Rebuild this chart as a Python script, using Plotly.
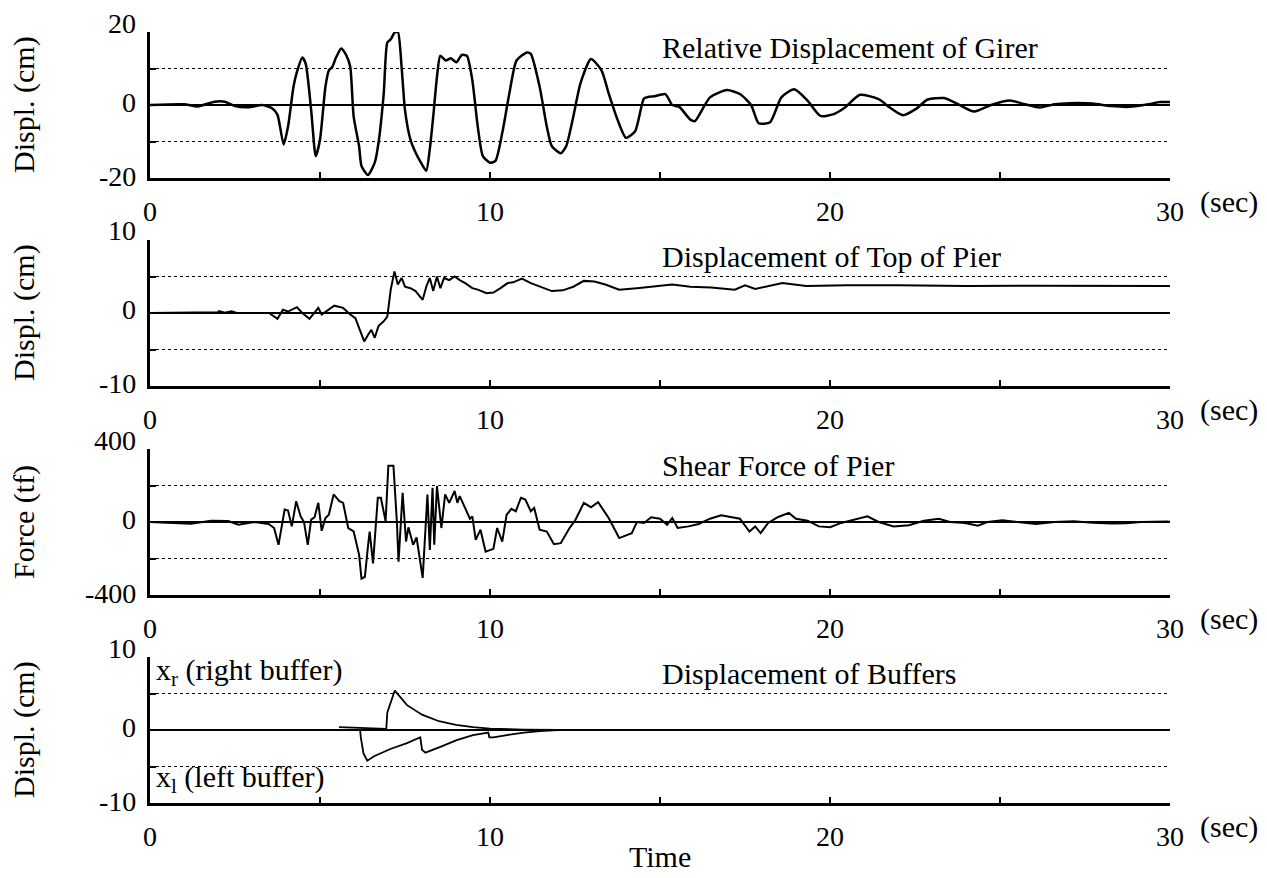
import plotly.graph_objects as go

# ---------------- data ----------------
# Panel 1: relative displacement of girder (cm)
girder = [(0, 0), (1.0, 0.2), (1.4, -0.4), (1.9, 0.9), (2.2, 0.9), (2.5, -0.3), (2.9, -0.6),
          (3.3, 0.0), (3.59, -0.9), (3.75, -2.7), (3.93, -10.8), (4.06, -5.9), (4.22, 5.0),
          (4.32, 9.0), (4.48, 13.0), (4.58, 11.3), (4.74, -1.4), (4.875, -14.0), (5.0, -9.5),
          (5.16, 5.0), (5.26, 9.5), (5.36, 10.4), (5.47, 13.0), (5.625, 15.5), (5.78, 13.5),
          (5.89, 10.4), (5.99, -3.2), (6.15, -11.3), (6.22, -16.7), (6.41, -19.2), (6.61, -15.8),
          (6.72, -10.4), (6.875, 3.2), (6.98, 17.1), (7.08, 18.0), (7.19, 19.8), (7.29, 20.0),
          (7.4, 10.4), (7.5, -1.4), (7.66, -9.5), (7.81, -13.0), (7.97, -15.8), (8.125, -18.0),
          (8.23, -12.0), (8.33, -3.2), (8.44, 7.7), (8.54, 13.5), (8.7, 12.2), (8.85, 12.8),
          (9.01, 11.7), (9.17, 13.7), (9.32, 13.5), (9.48, 6.8), (9.64, -5.9), (9.79, -14.0),
          (10.0, -15.8), (10.16, -15.3), (10.36, -7.7), (10.57, 3.2), (10.78, 12.2), (11.09, 14.4),
          (11.2, 14.0), (11.46, 5.0), (11.67, -5.9), (11.82, -11.3), (12.08, -13.2), (12.24, -11.3),
          (12.45, -3.2), (12.66, 5.9), (12.97, 12.6), (13.28, 9.5), (13.49, 3.2), (13.75, -4.0),
          (14.0, -9.0), (14.27, -7.2), (14.53, 1.8), (14.69, 2.3), (14.84, 2.4), (15.16, 3.0),
          (15.36, 0.0), (15.57, -0.5), (15.89, -4.0), (16.03, -4.4), (16.47, 2.1), (16.97, 4.1),
          (17.35, 3.0), (17.68, 0.0), (17.9, -5.0), (18.24, -4.7), (18.57, 2.1), (18.95, 4.3),
          (19.34, 1.2), (19.72, -3.0), (20.11, -2.5), (20.44, -0.7), (20.88, 2.8), (21.43, 1.6),
          (21.76, -0.7), (22.15, -2.8), (22.54, -1.0), (22.87, 1.5), (23.36, 1.9), (23.75, 0.3),
          (24.24, -1.8), (24.74, 0.0), (25.29, 1.2), (25.73, 0.2), (26.17, -0.7), (26.6, 0.2),
          (27.06, 0.5), (27.72, 0.4), (28.27, -0.3), (28.82, -0.5), (29.37, 0.2), (29.7, 0.8),
          (30.0, 0.8)]

# Panel 2: displacement of top of pier (cm)
pier_disp = [(0, 0), (0.9, 0), (2.0, 0.1), (2.03, 0.25), (2.2, 0.05), (2.4, 0.25), (2.55, 0),
             (3.5, 0), (3.75, -0.8), (3.91, 0.45), (4.06, 0.2), (4.32, 0.8), (4.48, 0),
             (4.69, -0.8), (4.84, 0.1), (4.95, 0.7), (5.05, -0.2), (5.26, 0.45), (5.42, 1.0),
             (5.68, 0.7), (5.89, -0.2), (6.04, -0.7), (6.18, -2.3), (6.3, -3.9), (6.41, -3.0),
             (6.51, -2.3), (6.61, -3.4), (6.72, -1.8), (6.88, -1.1), (6.98, -0.5), (7.08, 3.2),
             (7.19, 5.7), (7.29, 3.9), (7.4, 4.8), (7.5, 3.6), (7.66, 3.4), (7.81, 3.0),
             (8.02, 1.8), (8.125, 3.6), (8.23, 4.8), (8.33, 3.0), (8.44, 5.0), (8.54, 3.4),
             (8.65, 4.8), (8.8, 4.5), (8.96, 5.0), (9.11, 4.5), (9.27, 4.1), (9.48, 3.4),
             (9.64, 3.2), (9.9, 2.7), (10.1, 2.8), (10.31, 3.4), (10.52, 4.1), (10.68, 4.2),
             (10.94, 4.7), (11.2, 4.1), (11.51, 3.5), (11.82, 3.0), (12.14, 3.1), (12.45, 3.6),
             (12.76, 4.4), (13.07, 4.3), (13.39, 3.9), (13.8, 3.2), (14.32, 3.4), (14.84, 3.7),
             (15.36, 3.9), (15.89, 3.6), (16.5, 3.5), (17.2, 3.2), (17.5, 3.8), (17.8, 3.3),
             (18.6, 4.1), (19.3, 3.7), (20.5, 3.8), (22.0, 3.8), (24.0, 3.7), (26.0, 3.75),
             (28.0, 3.7), (30.0, 3.7)]

# Panel 3: shear force of pier (tf)
shear = [(0, 0), (1.2, -9), (1.8, 7), (2.3, 5), (2.6, -15), (3.07, 0), (3.49, -11), (3.65, -33),
         (3.78, -125), (3.91, 4), (3.96, 68), (4.06, 63), (4.17, -24), (4.3, 114), (4.43, 31),
         (4.53, 0), (4.64, -125), (4.74, 13), (4.84, 26), (4.95, 105), (5.05, -48), (5.16, 22),
         (5.26, 40), (5.4, 151), (5.57, 114), (5.68, 105), (5.83, -33), (5.99, -52), (6.15, -180),
         (6.22, -310), (6.32, -300), (6.41, -135), (6.46, -52), (6.56, -227), (6.7, 133),
         (6.79, 133), (6.93, 4), (7.01, 308), (7.16, 308), (7.26, 4), (7.31, -217), (7.43, 160),
         (7.53, -107), (7.6, -29), (7.74, -125), (7.84, -85), (8.02, -306), (8.16, 151),
         (8.23, -153), (8.31, 188), (8.36, -125), (8.44, 197), (8.57, -33), (8.68, 151),
         (8.8, 105), (8.96, 170), (9.04, 105), (9.11, 142), (9.27, 77), (9.41, 18), (9.48, 31),
         (9.58, -98), (9.72, -42), (9.87, -162), (10.1, -147), (10.21, -33), (10.36, -107),
         (10.49, 40), (10.63, 72), (10.76, 59), (10.91, 133), (11.04, 123), (11.2, 59),
         (11.3, 77), (11.46, -42), (11.67, -52), (11.88, -122), (12.08, -116), (12.34, -33),
         (12.5, 7), (12.76, 105), (12.97, 81), (13.18, 109), (13.49, 22), (13.8, -88),
         (14.17, -61), (14.32, 0), (14.53, -5), (14.74, 26), (15.0, 18), (15.21, -15),
         (15.36, 22), (15.52, -33), (15.84, -24), (16.14, -11), (16.47, 18), (16.8, 37),
         (17.35, 18), (17.63, -52), (17.8, -24), (17.96, -61), (18.18, -5), (18.46, 26),
         (18.79, 50), (19.0, 18), (19.34, 7), (19.67, -24), (20.0, -29), (20.33, -5),
         (20.77, 18), (21.1, 31), (21.43, 0), (21.87, -24), (22.32, -18), (22.76, 7),
         (23.2, 18), (23.53, 0), (23.97, -5), (24.35, -20), (24.63, 0), (25.07, 9), (25.51, 0),
         (26.06, -11), (26.6, 0), (27.17, 4), (27.72, -4), (28.27, -8), (28.71, -7), (29.15, 0),
         (29.92, 3), (30.0, 2)]

# Panel 4: displacement of buffers (cm)
buffer_right = [(5.56, 0.4), (6.0, 0.35), (6.5, 0.25), (6.95, 0.15), (6.98, 2.4), (7.2, 5.4),
                (7.56, 3.4), (8.0, 2.1), (8.5, 1.2), (9.0, 0.7), (9.5, 0.4), (10.0, 0.2),
                (11.0, 0.05), (12.0, 0.0)]
buffer_left = [(6.18, 0.0), (6.2, -1.0), (6.28, -3.2), (6.39, -4.2), (6.59, -3.6), (7.07, -2.6),
               (7.56, -1.8), (7.95, -1.0), (8.0, -2.7), (8.1, -3.1), (8.54, -2.3), (9.02, -1.4),
               (9.5, -0.7), (9.95, -0.35), (9.98, -1.0), (10.1, -1.0), (10.5, -0.7),
               (11.0, -0.35), (11.46, -0.15), (12.0, 0.0)]

x_labelled_ticks = [0, 10, 20, 30]
x_minor_ticks = [5, 15, 25]

panels = [
    dict(name="Relative Displacement of Girer", ytitle="Displ. (cm)", lim=20,
         ylabels=["-20", "0", "20"]),
    dict(name="Displacement of Top of Pier", ytitle="Displ. (cm)", lim=10,
         ylabels=["-10", "0", "10"]),
    dict(name="Shear Force of Pier", ytitle="Force (tf)", lim=400,
         ylabels=["-400", "0", "400"]),
    dict(name="Displacement of Buffers", ytitle="Displ. (cm)", lim=10,
         ylabels=["-10", "0", "10"]),
]

# ---------------- layout geometry (page pixels) ----------------
OFF = 8                      # default page-body margin in the browser
W, H = 1267 - OFF, 878 - OFF
X0, X1 = 150, 1170
TOPS = [32, 240, 449, 657]
PH = 146
FONT = "Liberation Serif, Times New Roman, serif"
TICK_SIZE = 28
TEXT_SIZE = 30


def px(x):
    return (x - OFF) / W


def py(y):
    return 1 - (y - OFF) / H


fig = go.Figure()


def add_series(pts, idx, width, shape="linear"):
    xs = [p[0] for p in pts]
    ys = [p[1] for p in pts]
    ax = "" if idx == 1 else str(idx)
    line = dict(color="black", width=width, shape=shape)
    if shape == "spline":
        line["smoothing"] = 0.6
    fig.add_trace(go.Scatter(x=xs, y=ys, mode="lines", xaxis="x" + ax, yaxis="y" + ax,
                             line=line, showlegend=False, hoverinfo="skip"))


add_series(girder, 1, 2.5, "spline")
add_series(pier_disp, 2, 2.0)
add_series(shear, 3, 2.0)
add_series(buffer_right, 4, 1.8)
add_series(buffer_left, 4, 1.8)

layout = dict(template="none", width=W, height=H, margin=dict(l=0, r=0, t=0, b=0),
              paper_bgcolor="white", plot_bgcolor="white",
              font=dict(family=FONT, color="black", size=TICK_SIZE), showlegend=False)

annotations = []
for i, p in enumerate(panels):
    idx = i + 1
    sfx = "" if idx == 1 else str(idx)
    top = TOPS[i]
    bot = top + PH
    lim = p["lim"]
    layout["xaxis" + sfx] = dict(
        domain=[px(X0), px(X1)], anchor="y" + sfx, range=[0, 30], automargin=False,
        showline=True, linewidth=3, linecolor="black", showgrid=False, zeroline=False,
        ticks="inside", ticklen=6, tickwidth=1.5, tickcolor="black",
        tickvals=x_labelled_ticks, ticklabelstandoff=6,
        minor=dict(tickvals=x_minor_ticks, ticks="inside", ticklen=6, tickwidth=1.5,
                   tickcolor="black", showgrid=False),
        tickfont=dict(family=FONT, size=TICK_SIZE), fixedrange=True)
    layout["yaxis" + sfx] = dict(
        domain=[py(bot), py(top)], anchor="x" + sfx, range=[-lim, lim],
        automargin=False,
        showline=True, linewidth=3, linecolor="black",
        showgrid=True, gridcolor="black", gridwidth=1, griddash="dot",
        zeroline=True, zerolinecolor="black", zerolinewidth=1.5,
        ticks="inside", ticklen=6, tickwidth=1.5, tickcolor="black",
        tickvals=[-lim, -lim / 2, 0, lim / 2, lim], showticklabels=False,
        fixedrange=True)
    # y tick labels (top label sits slightly above its gridline, as in the reference)
    for val, txt, shift in zip([-lim, 0, lim], p["ylabels"], [2, 3, 9]):
        annotations.append(dict(text=txt, xref="paper", yref="y" + sfx,
                                x=px(X0 - 12), y=val, yshift=shift, showarrow=False,
                                xanchor="right", yanchor="middle",
                                font=dict(family=FONT, size=TICK_SIZE)))
    # y-axis title
    annotations.append(dict(text=p["ytitle"], xref="paper", yref="paper",
                            x=px(24), y=py(top + PH / 2), textangle=-90,
                            showarrow=False, xanchor="center", yanchor="middle",
                            font=dict(family=FONT, size=TEXT_SIZE)))
    # panel caption (starts at t = 15 s)
    annotations.append(dict(text=p["name"], xref="x" + sfx, yref="paper",
                            x=15.0, y=py(top + 16), showarrow=False,
                            xanchor="left", yanchor="middle",
                            font=dict(family=FONT, size=TEXT_SIZE)))
    # "(sec)" unit after the last tick label
    annotations.append(dict(text="(sec)", xref="paper", yref="paper",
                            x=px(X1 + 28), y=py(bot + 24), showarrow=False,
                            xanchor="left", yanchor="middle",
                            font=dict(family=FONT, size=TEXT_SIZE)))

annotations.append(dict(text="x<sub>r</sub> (right buffer)", xref="paper", yref="paper",
                        x=px(X0 + 4), y=py(TOPS[3] + 15), showarrow=False,
                        xanchor="left", yanchor="middle",
                        font=dict(family=FONT, size=TEXT_SIZE)))
annotations.append(dict(text="x<sub>l</sub> (left buffer)", xref="paper", yref="paper",
                        x=px(X0 + 4), y=py(TOPS[3] + 122), showarrow=False,
                        xanchor="left", yanchor="middle",
                        font=dict(family=FONT, size=TEXT_SIZE)))
annotations.append(dict(text="Time", xref="paper", yref="paper",
                        x=px((X0 + X1) / 2), y=py(856), showarrow=False,
                        xanchor="center", yanchor="middle",
                        font=dict(family=FONT, size=TEXT_SIZE)))
layout["annotations"] = annotations

fig.update_layout(**layout)
fig.write_html("out.html")
